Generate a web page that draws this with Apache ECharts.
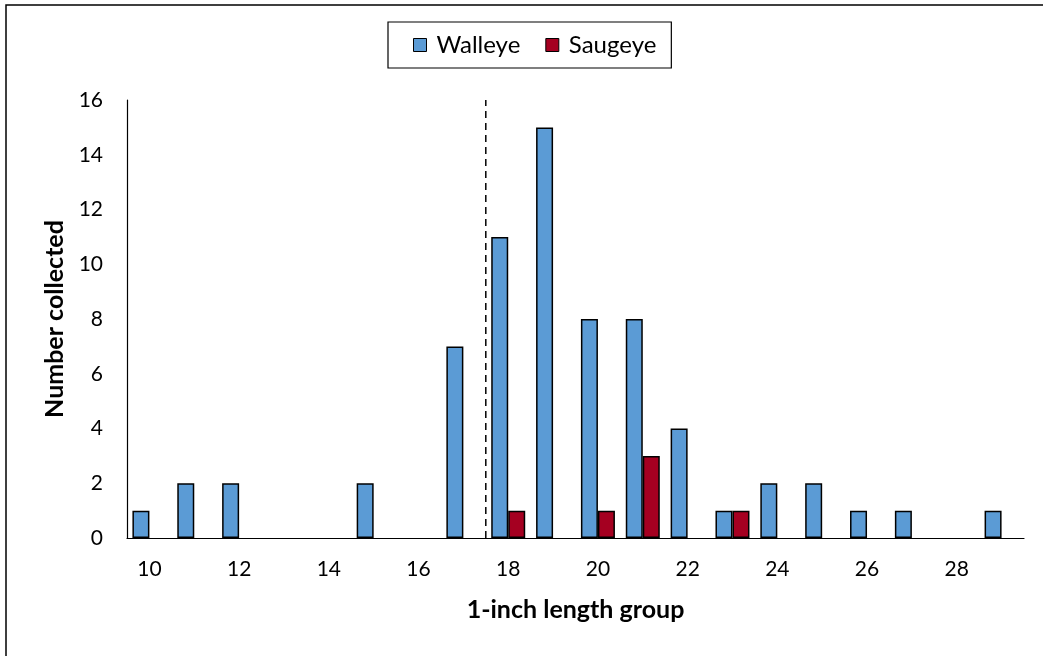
<!DOCTYPE html>
<html>
<head>
<meta charset="utf-8">
<script src="https://cdn.jsdelivr.net/npm/echarts@6/dist/echarts.min.js"></script>
<style>html,body{margin:0;padding:0;background:#fff;}#c{width:1043px;height:656px;}</style>
</head>
<body>
<div id="c"></div>
<script>
const categories = ['10','11','12','13','14','15','16','17','18','19','20','21','22','23','24','25','26','27','28','29'];
const walleye = [1,2,2,0,0,2,0,7,11,15,8,8,4,1,2,2,1,1,0,1];
const saugeye = [0,0,0,0,0,0,0,0,1,0,1,3,0,1,0,0,0,0,0,0];
const yTicks = {min:0, max:16, interval:2};
const cutoffLength = 17.5;

// zero-height bars are not drawn in the reference
const noZero = arr => arr.map(v => v === 0 ? '-' : v);

const FONT = 'Lato';
const chart = echarts.init(document.getElementById('c'));
chart.setOption({
  animation: false,
  backgroundColor: '#fff',
  textStyle: {fontFamily: FONT, color: '#000'},
  graphic: [{
    type: 'rect', shape: {x: 6, y: 5, width: 1200, height: 1000},
    style: {fill: 'none', stroke: '#000', lineWidth: 1.5}, silent: true
  }],
  legend: {
    top: 22, left: 388,
    data: ['Walleye', 'Saugeye'],
    icon: 'rect', itemWidth: 13, itemHeight: 13, itemGap: 25,
    borderColor: '#000', borderWidth: 1.2,
    padding: [11, 15, 11, 25],
    textStyle: {fontFamily: FONT, fontSize: 24, color: '#000', padding: [0,0,0,5]},
    itemStyle: {borderColor: '#000', borderWidth: 1}
  },
  grid: {left: 127, right: 19, top: 100, bottom: 118},
  xAxis: [{
    type: 'category', data: categories,
    axisLine: {lineStyle: {color: '#000', width: 1.2}},
    axisTick: {show: false},
    axisLabel: {interval: 1, fontSize: 21, color: '#000', margin: 21, fontFamily: FONT},
    name: '1-inch length group', nameLocation: 'middle', nameGap: 59,
    nameTextStyle: {fontSize: 25, fontWeight: 'bold', color: '#000', fontFamily: FONT}
  }, {
    type: 'value', min: 9.5, max: 29.5, show: false
  }],
  yAxis: {
    type: 'value', min: yTicks.min, max: yTicks.max, interval: yTicks.interval,
    axisLine: {show: true, lineStyle: {color: '#000', width: 1.2}},
    axisTick: {show: false},
    splitLine: {show: false},
    axisLabel: {fontSize: 21, color: '#000', margin: 24, fontFamily: FONT},
    name: 'Number collected', nameLocation: 'middle', nameGap: 56, nameRotate: 90,
    nameTextStyle: {fontSize: 25, fontWeight: 'bold', color: '#000', fontFamily: FONT}
  },
  series: [{
    name: 'Walleye', type: 'bar', data: noZero(walleye), barWidth: 17, barGap: '0%',
    itemStyle: {color: '#5B9BD5', borderColor: '#000', borderWidth: 1.5}
  }, {
    name: 'Saugeye', type: 'bar', data: noZero(saugeye), barWidth: 17, barGap: '0%',
    itemStyle: {color: '#A50021', borderColor: '#000', borderWidth: 1.5}
  }, {
    name: 'cutoff', type: 'line', xAxisIndex: 1,
    data: [[cutoffLength, yTicks.min], [cutoffLength, yTicks.max]],
    symbol: 'none', silent: true,
    lineStyle: {color: '#000', width: 1.5, type: [7, 5]}
  }]
});
</script>
</body>
</html>
